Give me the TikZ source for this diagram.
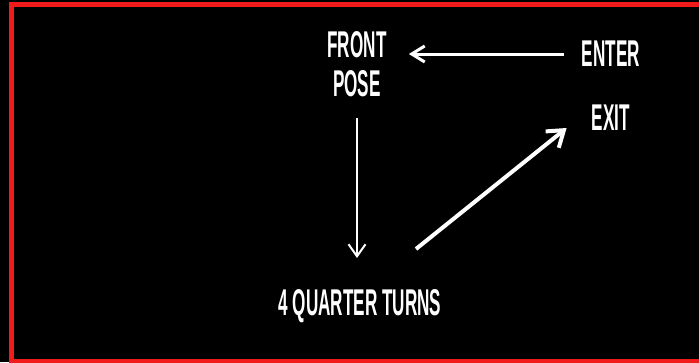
\documentclass[tikz,border=0pt]{standalone}
\usepackage{fontspec}
\setmainfont{Liberation Sans}[FakeStretch=0.46]
\usetikzlibrary{arrows.meta, positioning, calc}
\definecolor{framered}{HTML}{F21B1B}
\definecolor{inkwhite}{HTML}{FFFFFF}
\tikzset{
  stepword/.style={text=inkwhite, align=center, inner sep=0pt,
                   font=\fontsize{21.2}{22.2}\selectfont\bfseries},
  flow/.style={-{Straight Barb[length=0.26cm, width=0.32cm]}, draw=inkwhite,
               line width=0.06cm},
  drop/.style={-{Straight Barb[length=0.24cm, width=0.34cm]}, draw=inkwhite,
               line width=0.04cm},
  leave/.style={-{Straight Barb[length=0.3cm, width=0.42cm]}, draw=inkwhite,
                line width=0.08cm},
}

\begin{document}
\begin{tikzpicture}[x=0.02cm, y=-0.02cm]

% Canvas and frame
\clip (0,0) rectangle (699,362);
\fill[black] (0,0) rectangle (699,362);
\draw[framered, line width=0.1cm] (11.5,4.5) rectangle (720,361.5);

% Steps
\node[stepword] (front) at (357,64) {FRONT\\POSE};
\node[stepword] (enter) at (611,54) {ENTER};
\node[stepword] (exit)  at (611,118) {EXIT};
\node[stepword] (turns) at (360,306) {4 QUARTER TURNS};

% Flow
\draw[flow] ([xshift=-0.36cm]enter.west) -- ([xshift=0.44cm]front.east |- enter.west);
\draw[drop] ([yshift=-0.42cm]front.south) -- ([yshift=0.62cm]front.south |- turns.north);
\coordinate (leavefrom) at ($(turns.north)+(56,-40)$);
\coordinate (leaveto) at ($(exit.west)+(-25,10)$);
\draw[leave] (leavefrom) -- (leaveto);

\end{tikzpicture}
\end{document}
